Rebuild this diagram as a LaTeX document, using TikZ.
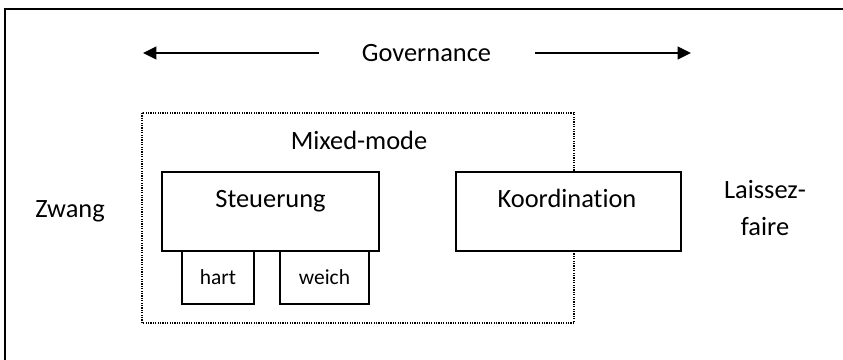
\documentclass[tikz,border=0pt]{standalone}
\usepackage{fontspec}
\setmainfont{Carlito}[Ligatures={NoCommon}]
\usetikzlibrary{arrows.meta}
\begin{document}
\begin{tikzpicture}[x=0.75pt,y=-0.75pt,
  big/.style={font=\fontsize{19.8}{24}\selectfont, inner sep=0pt, anchor=base},
  small/.style={font=\fontsize{16.1}{19}\selectfont, inner sep=0pt, anchor=base},
  boxstyle/.style={draw=black, fill=white, line width=1.5pt},
  govarrow/.style={line width=1.7pt, -{Triangle[length=10pt,width=9.5pt]}}]
\useasboundingbox (0,0) rectangle (843,360);
% frame
\draw[line width=2pt] (5,360) -- (5,9) -- (843,9);
% governance
\node[big] (gov) at (426.5,62) {Governance};
\coordinate (la) at (319,53);
\coordinate (lt) at (143,53);
\coordinate (ra) at (535,53);
\coordinate (rt) at (691,53);
\draw[govarrow] (la) -- (lt);
\draw[govarrow] (ra) -- (rt);
% mixed-mode dotted box
\draw[dash pattern=on 0.9pt off 0.9pt, line width=1pt] (142,113) rectangle (574,323);
\node[big] (mixed) at (359,150) {Mixed-mode};
% boxes
\draw[boxstyle] (162,172) rectangle (379,251);
\node[big] (steu) at (270.5,207) {Steuerung};
\draw[boxstyle] (456,172) rectangle (681,251);
\node[big] (koord) at (567,207) {Koordination};
\draw[boxstyle] (182,251) rectangle (254,304);
\node[small] (hart) at (218,284) {hart};
\draw[boxstyle] (280,251) rectangle (369,304);
\node[small] (weich) at (324.5,284) {weich};
% side labels
\node[big] (zwang) at (70,217) {Zwang};
\node[big] (laissez) at (765,198) {Laissez-};
\node[big] (faire) at (765,235) {faire};
\end{tikzpicture}
\end{document}
